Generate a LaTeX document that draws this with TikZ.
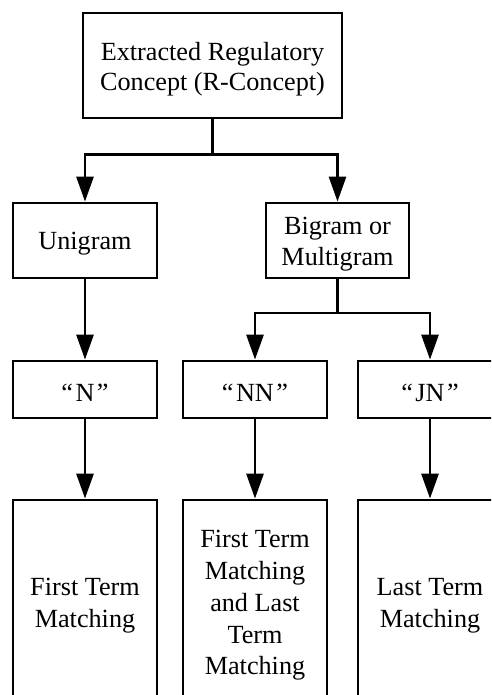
\documentclass[tikz,border=0pt]{standalone}
\usepackage{fontspec}
\setmainfont{Liberation Serif}
\usetikzlibrary{arrows.meta}
\newcommand{\qq}[1]{“\kern2.5pt#1\kern2.5pt”}
\begin{document}
\begin{tikzpicture}[x=1pt,y=-1pt,
  box/.style={draw=black,line width=2.8pt,fill=white,rectangle,inner sep=0pt},
  txt/.style={inner sep=0pt,align=center,yshift=-3.5pt,font=\fontsize{26.2}{30.5}\selectfont},
  txtb/.style={txt,font=\fontsize{26.2}{31.7}\selectfont},
  arr/.style={line width=2.8pt,-{Triangle[width=17pt,length=25pt]}},
  con/.style={line width=2.8pt}]
\useasboundingbox (0,0) rectangle (491,695);
\clip (0,0) rectangle (491,695);
\fill[white] (0,0) rectangle (491,695);
\node[box,minimum width=259pt,minimum height=105pt,label={[txt,name=topt]center:Extracted Regulatory\\Concept (R-Concept)}] (top) at (212.5,65.5) {};
\node[box,minimum width=144pt,minimum height=75pt,label={[txt,name=unit]center:Unigram}] (uni) at (85,240.5) {};
\node[box,minimum width=143pt,minimum height=75pt,label={[txt,name=bit]center:Bigram or\\Multigram}] (bi) at (337.5,240.5) {};
\node[box,minimum width=144pt,minimum height=57pt,label={[txt,name=nt]center:\qq{N}}] (n) at (85,389.5) {};
\node[box,minimum width=144pt,minimum height=57pt,label={[txt,name=nnt]center:\qq{NN}}] (nn) at (255,389.5) {};
\node[box,minimum width=144pt,minimum height=57pt,label={[txt,name=jnt]center:\qq{JN}}] (jn) at (430,389.5) {};
\node[box,minimum width=144pt,minimum height=204pt,label={[txtb,name=fmt]center:First Term\\Matching}] (fm) at (85,602) {};
\node[box,minimum width=144pt,minimum height=204pt,label={[txtb,name=nmt]center:First Term\\Matching\\and Last\\Term\\Matching}] (nm) at (255,602) {};
\node[box,minimum width=144pt,minimum height=204pt,label={[txtb,name=lmt]center:Last Term\\Matching}] (lm) at (430,602) {};
\coordinate (b1) at (212.5,154.5);
\coordinate (b2) at (337.5,313);
\draw[con] (top.south) -- (b1);
\draw[arr] (b1) -| (uni.north);
\draw[arr] (b1) -| (bi.north);
\draw[con] (bi.south) -- (b2);
\draw[arr] (b2) -| (nn.north);
\draw[arr] (b2) -| (jn.north);
\draw[arr] (uni.south) -- (n.north);
\draw[arr] (n.south) -- (fm.north);
\draw[arr] (nn.south) -- (nm.north);
\draw[arr] (jn.south) -- (lm.north);
\end{tikzpicture}
\end{document}
